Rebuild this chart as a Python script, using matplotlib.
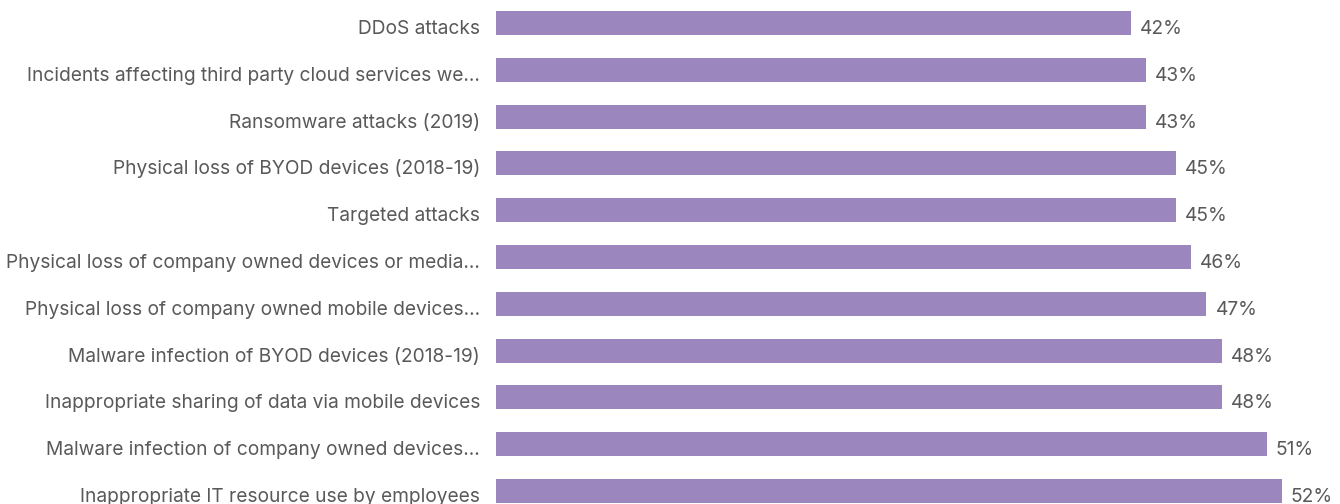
import matplotlib
matplotlib.use('Agg')
import matplotlib.pyplot as plt

# incident types, top to bottom
categories = [
    'DDoS attacks',
    'Incidents affecting third party cloud services we...',
    'Ransomware attacks (2019)',
    'Physical loss of BYOD devices (2018-19)',
    'Targeted attacks',
    'Physical loss of company owned devices or media...',
    'Physical loss of company owned mobile devices...',
    'Malware infection of BYOD devices (2018-19)',
    'Inappropriate sharing of data via mobile devices',
    'Malware infection of company owned devices...',
    'Inappropriate IT resource use by employees',
]
# share of respondents, percent
values = [42, 43, 43, 45, 45, 46, 47, 48, 48, 51, 52]

bar_color = '#9b86be'
text_color = '#595959'

plt.rcParams['font.family'] = ['Inter', 'DejaVu Sans']

W, H = 1340, 504
fig = plt.figure(figsize=(W / 100, H / 100), dpi=100)
# plot area starts where the bars begin
left_px = 496
ax = fig.add_axes([left_px / W, 0, 1 - left_px / W, 1])

px_per_pct = 786 / 52.0
ax.set_xlim(0, (W - left_px) / px_per_pct)
pitch = 46.8
ax.set_ylim(len(values) - 1 + (H - 491) / pitch, -23 / pitch)

bar_h = 0.51
ypos = list(range(len(values)))
ax.barh(ypos, values, height=bar_h, color=bar_color)

# text baselines sit right at the bottom edge of each bar
base = bar_h / 2 - 1 / pitch
for y, v in zip(ypos, values):
    ax.text(v + 9 / px_per_pct, y + base, f'{v}%', va='baseline', ha='left',
            fontsize=13.8, color=text_color)

for y, c in zip(ypos, categories):
    ax.text(-16 / px_per_pct, y + base, c, va='baseline', ha='right',
            fontsize=13.8, color=text_color, clip_on=False)

ax.axis('off')
fig.savefig('out.png', dpi=100, facecolor='white')
